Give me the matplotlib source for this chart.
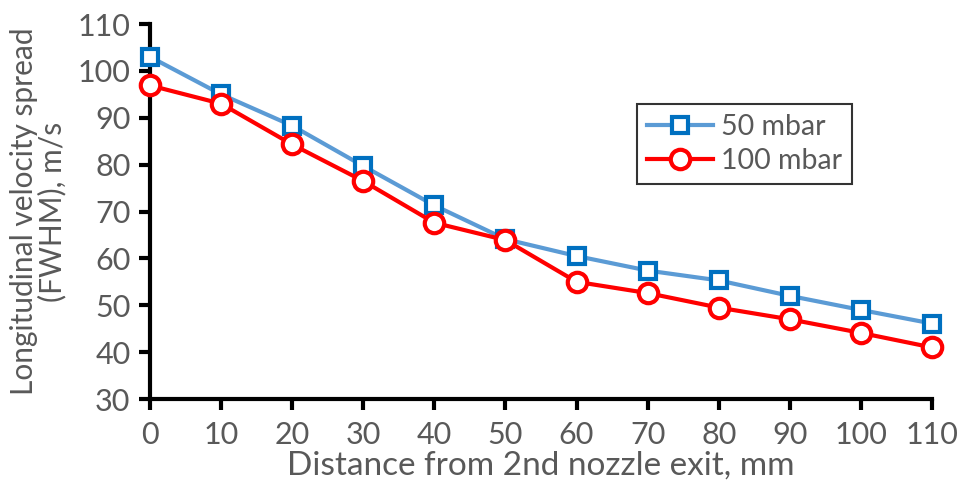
import matplotlib
matplotlib.use('Agg')
import matplotlib.pyplot as plt

distance = [0, 10, 20, 30, 40, 50, 60, 70, 80, 90, 100, 110]
spread_50 = [103, 95, 88.3, 79.7, 71.3, 64.1, 60.5, 57.4, 55.3, 52, 49, 46.1]
spread_100 = [96.9, 93, 84.3, 76.5, 67.6, 63.9, 55, 52.6, 49.5, 47, 44.1, 41]

plt.rcParams['font.family'] = ['Lato', 'DejaVu Sans']
gray = '#595959'

fig = plt.figure(figsize=(9.57, 4.84), dpi=100)
ax = fig.add_axes([0.1567, 0.1756, 0.8172, 0.7748])

ax.plot(distance, spread_50, color='#5B9BD5', lw=3, marker='s', ms=11,
        mfc='white', mec='#0070C0', mew=3, label='50 mbar', zorder=3)
ax.plot(distance, spread_100, color='#FF0000', lw=3, marker='o', ms=14,
        mfc='white', mec='#FF0000', mew=3, label='100 mbar', zorder=4)

ax.set_xlim(0, 110)
ax.set_ylim(30, 110)
ax.set_xticks(range(0, 111, 10))
ax.set_yticks(range(30, 111, 10))
for s in ['top', 'right']:
    ax.spines[s].set_visible(False)
for s in ['left', 'bottom']:
    ax.spines[s].set_linewidth(3)
    ax.spines[s].set_color('black')
ax.tick_params(direction='out', length=8, width=3, colors='black',
               labelcolor=gray, labelsize=22, pad=6)
ax.tick_params(axis='x', pad=8)

ax.set_xlabel('Distance from 2nd nozzle exit, mm', fontsize=24, color=gray, labelpad=1)
ax.set_ylabel('Longitudinal velocity spread\n(FWHM), m/s', fontsize=21.5, color=gray,
              linespacing=1.0, labelpad=8)

leg = ax.legend(loc='upper left', bbox_to_anchor=(0.623, 0.787), borderaxespad=0,
                fontsize=20.5, frameon=True, fancybox=False, edgecolor='black',
                handlelength=2.3, borderpad=0.35, labelspacing=0.3, handletextpad=0.3)
leg.get_frame().set_linewidth(1.5)
for t in leg.get_texts():
    t.set_color(gray)

for l in ax.lines:
    l.set_clip_on(False)

fig.savefig('out.png', dpi=100)
